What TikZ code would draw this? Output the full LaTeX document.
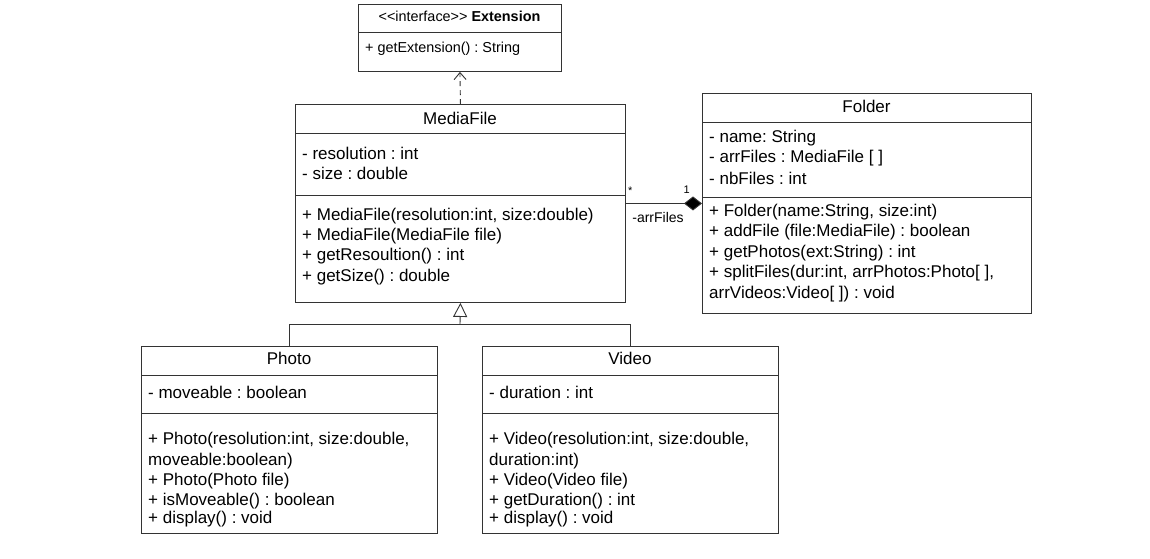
\documentclass[tikz,border=0pt]{standalone}
\usepackage{fontspec}
\setmainfont[Ligatures=NoCommon]{Liberation Sans}
\frenchspacing
\usetikzlibrary{arrows.meta}
\begin{document}
\begin{tikzpicture}[x=1pt,y=-1pt,
  cls/.style={draw=black!80,line width=0.9pt,fill=white,anchor=north west,inner sep=0pt},
  sep/.style={draw=black!80,line width=0.9pt},
  txt/.style={anchor=west,inner sep=0pt,font=\fontsize{17}{19}\selectfont},
  ttl/.style={anchor=center,inner sep=0pt,font=\fontsize{17}{19}\selectfont},
  small/.style={inner sep=0pt,font=\fontsize{14.4}{16}\selectfont},
  conn/.style={draw=black!80,line width=0.9pt}]
\useasboundingbox (0,0) rectangle (1150,558);
\fill[white] (0,0) rectangle (1150,558);
% Extension
\node[cls,minimum width=203pt,minimum height=67pt] (ext) at (358,4) {};
\draw[sep] (358,32) -- (561,32);
\node[small,anchor=center] (extt) at (459.5,16) {{<}{<}interface{>}{>} \textbf{Extension}};
\node[small,anchor=west] (ext1) at (365,49) {+ getExtension() : String};
% MediaFile
\node[cls,minimum width=330pt,minimum height=198pt] (media) at (295,104) {};
\draw[sep] (295,133) -- (625,133);
\draw[sep] (295,195) -- (625,195);
\node[ttl] (mediat) at (460,118) {MediaFile};
\node[txt] (m1) at (302,153) {- resolution : int};
\node[txt] (m2) at (302,173) {- size : double};
\node[txt] (m3) at (302,216) {+ MediaFile(resolution:int, size:double)};
\node[txt] (m4) at (302,236) {+ MediaFile(MediaFile file)};
\node[txt] (m5) at (302,256) {+ getResoultion() : int};
\node[txt] (m6) at (302,277) {+ getSize() : double};
% Folder
\node[cls,minimum width=329pt,minimum height=220pt] (folder) at (702,93) {};
\draw[sep] (702,122) -- (1031,122);
\draw[sep] (702,197) -- (1031,197);
\node[ttl] (foldert) at (866.5,106) {Folder};
\node[txt] (f1) at (709,138) {- name: String};
\node[txt] (f2) at (709,158) {- arrFiles : MediaFile [ ]};
\node[txt] (f3) at (709,178) {- nbFiles : int};
\node[txt] (f4) at (709,212) {+ Folder(name:String, size:int)};
\node[txt] (f5) at (709,232) {+ addFile (file:MediaFile) : boolean};
\node[txt] (f6) at (709,253) {+ getPhotos(ext:String) : int};
\node[txt] (f7) at (709,273) {+ splitFiles(dur:int, arrPhotos:Photo[ ],};
\node[txt] (f8) at (709,294) {arrVideos:Video[ ]) : void};
% Photo
\node[cls,minimum width=296pt,minimum height=187pt] (photo) at (141,346) {};
\draw[sep] (141,375) -- (437,375);
\draw[sep] (141,413) -- (437,413);
\node[ttl] (photot) at (289,358) {Photo};
\node[txt] (p1) at (148,392) {- moveable : boolean};
\node[txt] (p2) at (148,440) {+ Photo(resolution:int, size:double,};
\node[txt] (p3) at (148,461) {moveable:boolean)};
\node[txt] (p4) at (148,481) {+ Photo(Photo file)};
\node[txt] (p5) at (148,501) {+ isMoveable() : boolean};
\node[txt] (p6) at (148,519) {+ display() : void};
% Video
\node[cls,minimum width=296pt,minimum height=187pt] (video) at (482,346) {};
\draw[sep] (482,375) -- (778,375);
\draw[sep] (482,413) -- (778,413);
\node[ttl] (videot) at (630,358) {Video};
\node[txt] (v1) at (489,392) {- duration : int};
\node[txt] (v2) at (489,440) {+ Video(resolution:int, size:double,};
\node[txt] (v3) at (489,461) {duration:int)};
\node[txt] (v4) at (489,481) {+ Video(Video file)};
\node[txt] (v5) at (489,501) {+ getDuration() : int};
\node[txt] (v6) at (489,519) {+ display() : void};
% realization
\draw[conn,dashed,dash pattern=on 5pt off 4pt,-{Straight Barb[open,length=7pt,width=12pt]}] (media.north) -- (ext.south);
% composition
\draw[conn,-{Diamond[length=18pt,width=14pt,fill=black]}] (media.east) -- (folder.west);
\node[small,anchor=west,font=\fontsize{11}{13}\selectfont] (mstar) at (628,191) {*};
\node[small,anchor=east,font=\fontsize{11}{13}\selectfont] (mone) at (690,190) {1};
\node[small,anchor=center,font=\fontsize{14}{16}\selectfont] (role) at (658,217) {-arrFiles};
% generalization
\coordinate (gj) at (460,324);
\draw[conn] (photo.north) |- (gj) -| (video.north);
\draw[conn,-{Triangle[open,length=14pt,width=14pt]}] (gj) -- (media.south);
\end{tikzpicture}
\end{document}
